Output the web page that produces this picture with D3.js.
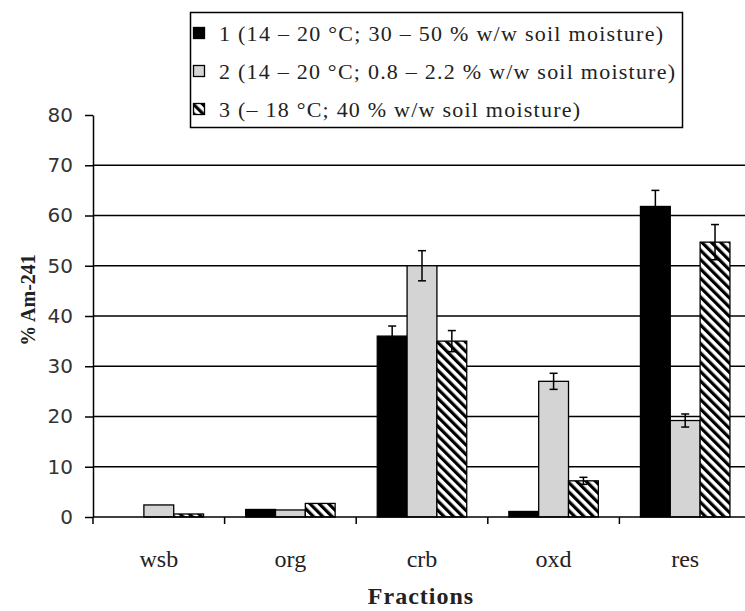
<!DOCTYPE html>
<html>
<head>
<meta charset="utf-8">
<script src="https://cdn.jsdelivr.net/npm/d3@7"></script>
<style>
  body { margin: 0; background: #fff; }
  svg { display: block; }
</style>
</head>
<body>
<div id="chart"></div>
<script>
// fractions on the x axis
var categories = ["wsb", "org", "crb", "oxd", "res"];
var seriesNames = [
  "1 (14 \u2013 20 \u00b0C; 30 \u2013 50 % w/w soil moisture)",
  "2 (14 \u2013 20 \u00b0C; 0.8 \u2013 2.2 % w/w soil moisture)",
  "3 (\u2013 18 \u00b0C; 40 % w/w soil moisture)"
];
// % Am-241 per fraction
var series1 = [0, 1.5, 36, 1.1, 61.8];
var series2 = [2.4, 1.4, 50, 27, 19.2];
var series3 = [0.6, 2.7, 35, 7.2, 54.7];
// error bar half widths (null = none drawn)
var err1 = [null, null, 2, null, 3.2];
var err2 = [null, null, 3, 1.6, 1.3];
var err3 = [null, null, 2.1, 0.7, 3.5];
var yTicks = [0, 10, 20, 30, 40, 50, 60, 70, 80];

var width = 745, height = 611;
var margin = {top: 115, right: -6, bottom: 94, left: 93};

var svg = d3.select("#chart").append("svg")
  .attr("width", width)
  .attr("height", height);

// hatch for series 3
var defs = svg.append("defs");
defs.append("pattern")
  .attr("id", "hatch")
  .attr("patternUnits", "userSpaceOnUse")
  .attr("width", 6.6)
  .attr("height", 6.6)
  .attr("patternTransform", "rotate(-45)")
  .call(p => p.append("rect").attr("width", 6.6).attr("height", 6.6).attr("fill", "#fff"))
  .call(p => p.append("rect").attr("width", 3.2).attr("height", 6.6).attr("fill", "#000"));

var fills = ["#000", "#d4d4d4", "url(#hatch)"];

var data = [];
categories.forEach(function(c, i) {
  data.push({cat: c, s: 0, value: series1[i], err: err1[i]});
  data.push({cat: c, s: 1, value: series2[i], err: err2[i]});
  data.push({cat: c, s: 2, value: series3[i], err: err3[i]});
});

x = d3.scaleBand()
  .domain(categories)
  .range([margin.left, width - margin.right])
  .paddingInner(0.32)
  .paddingOuter(0.16);

xs = d3.scaleBand()
  .domain([0, 1, 2])
  .range([0, x.bandwidth()]);

y = d3.scaleLinear()
  .domain([0, 80])
  .range([height - margin.bottom, margin.top]);

// gridlines (none at the top)
svg.append("g")
  .selectAll("line")
  .data(yTicks.filter(d => d > 0 && d < 80))
  .enter().append("line")
  .attr("x1", margin.left)
  .attr("x2", width)
  .attr("y1", d => y(d))
  .attr("y2", d => y(d))
  .attr("stroke", "#000")
  .attr("stroke-width", 1.5);

// bars
svg.append("g")
  .selectAll("rect")
  .data(data.filter(d => d.value > 0))
  .enter().append("rect")
  .attr("x", d => x(d.cat) + xs(d.s))
  .attr("y", d => y(d.value))
  .attr("width", xs.bandwidth())
  .attr("height", d => y(0) - y(d.value))
  .attr("fill", d => fills[d.s])
  .attr("stroke", "#000")
  .attr("stroke-width", 1.3);

// error bars
var eb = svg.append("g")
  .attr("stroke", "#000")
  .attr("stroke-width", 1.5)
  .selectAll("g")
  .data(data.filter(d => d.err != null))
  .enter().append("g")
  .attr("transform", d => `translate(${x(d.cat) + xs(d.s) + xs.bandwidth() / 2},0)`);
eb.append("line")
  .attr("y1", d => y(d.value - d.err))
  .attr("y2", d => y(d.value + d.err));
eb.append("line")
  .attr("x1", -4).attr("x2", 4)
  .attr("y1", d => y(d.value + d.err))
  .attr("y2", d => y(d.value + d.err));
eb.append("line")
  .attr("x1", -4).attr("x2", 4)
  .attr("y1", d => y(d.value - d.err))
  .attr("y2", d => y(d.value - d.err));

// y axis
yAxis = g => g
  .attr("transform", `translate(${margin.left},0)`)
  .call(d3.axisLeft(y).tickValues(yTicks).tickSize(8).tickSizeOuter(0).tickPadding(12))
  .call(g => g.selectAll("line, path").attr("stroke", "#000").attr("stroke-width", 1.5))
  .call(g => g.selectAll("text")
    .attr("font-family", "DejaVu Sans")
    .attr("font-size", 20)
    .attr("fill", "#333"));
svg.append("g").call(yAxis);

// x axis: ticks at category boundaries
var bounds = categories.map(c => x(c) - x.step() * x.paddingInner() / 2);
svg.append("line")
  .attr("x1", margin.left).attr("x2", width)
  .attr("y1", y(0)).attr("y2", y(0))
  .attr("stroke", "#000").attr("stroke-width", 1.5);
svg.append("g")
  .selectAll("line")
  .data(bounds)
  .enter().append("line")
  .attr("x1", d => d).attr("x2", d => d)
  .attr("y1", y(0)).attr("y2", y(0) + 7)
  .attr("stroke", "#000").attr("stroke-width", 1.5);
svg.append("g")
  .selectAll("text")
  .data(categories)
  .enter().append("text")
  .attr("x", d => x(d) + x.bandwidth() / 2)
  .attr("y", 567)
  .attr("text-anchor", "middle")
  .attr("font-family", "Liberation Serif")
  .attr("font-size", 24)
  .attr("fill", "#222")
  .text(d => d);

// axis titles
svg.append("text")
  .attr("x", 421).attr("y", 604)
  .attr("text-anchor", "middle")
  .attr("font-family", "Liberation Serif")
  .attr("font-weight", "bold")
  .attr("font-size", 24)
  .attr("letter-spacing", 1)
  .attr("fill", "#222")
  .text("Fractions");
svg.append("text")
  .attr("transform", "translate(35,300) rotate(-90)")
  .attr("text-anchor", "middle")
  .attr("font-family", "Liberation Serif")
  .attr("font-weight", "bold")
  .attr("font-size", 20)
  .attr("fill", "#222")
  .text("% Am-241");

// legend
var legend = svg.append("g");
legend.append("rect")
  .attr("x", 190.5).attr("y", 12.5)
  .attr("width", 492).attr("height", 115)
  .attr("fill", "#fff")
  .attr("stroke", "#000")
  .attr("stroke-width", 1.5);
var textEnds = [663, 675, 580];
var rows = legend.selectAll("g.row")
  .data(seriesNames)
  .enter().append("g")
  .attr("class", "row")
  .attr("transform", (d, i) => `translate(0,${33 + i * 38})`);
rows.append("rect")
  .attr("x", 193.5).attr("y", -5.5)
  .attr("width", 11).attr("height", 11)
  .attr("fill", (d, i) => fills[i])
  .attr("stroke", "#000")
  .attr("stroke-width", 1.3);
rows.append("text")
  .attr("x", 219)
  .attr("y", 8)
  .attr("font-family", "Liberation Serif")
  .attr("font-size", 22)
  .attr("fill", "#222")
  .attr("textLength", (d, i) => textEnds[i] - 219)
  .attr("lengthAdjust", "spacing")
  .text(d => d);
</script>
</body>
</html>
